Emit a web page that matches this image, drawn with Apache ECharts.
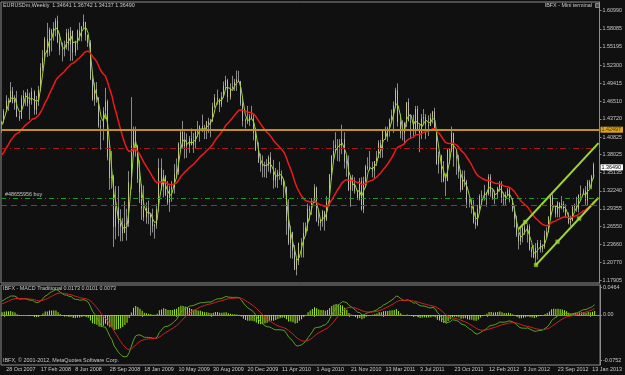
<!DOCTYPE html>
<html><head><meta charset="utf-8">
<script src="https://cdn.jsdelivr.net/npm/echarts@6/dist/echarts.min.js"></script>
<style>html,body{margin:0;padding:0;background:#101010;}#c{width:625px;height:375px;}</style>
</head><body><div id="c"></div>
<script>
// weekly closes before the first visible bar (used only to warm up the indicators)
const priorCloses = [1.2810,1.2720,1.2680,1.2820,1.2680,1.2650,1.2530,1.2550,1.2730,1.2760,1.2830,1.2840,1.3100,1.3300,1.3270,1.3170,1.3130,1.3200,
1.3000,1.2920,1.2960,1.2950,1.3030,1.2990,1.3140,1.3150,1.3190,1.3120,1.3270,1.3290,1.3350,1.3390,1.3530,1.3600,1.3640,1.3520,1.3520,1.3510,1.3450,1.3460,1.3370,1.3380,1.3500,1.3540,1.3620,1.3790,1.3820,1.3680,1.3830,1.3680,1.3450,1.3660,1.3640,1.3750,1.3880,1.4080,1.4270,1.4160,1.4200,1.4300];

// visible weekly bars, 21 Oct 2007 .. 27 Jan 2013
const closes = [1.4330,1.4500,1.4660,1.4640,1.4820,1.4630,1.4680,1.4410,1.4380,1.4700,1.4740,1.4780,1.4620,1.4670,1.4810,1.4520,1.4650,1.4830,1.5190,1.5350,
1.5650,1.5430,1.5790,1.5720,1.5820,1.5940,1.5600,1.5470,1.5480,1.5520,1.5750,1.5560,1.5780,1.5430,1.5590,1.5780,1.5680,1.5850,1.5920,1.5710,
1.5590,1.5010,1.4680,1.4850,1.4700,1.4260,1.4240,1.4500,1.4650,1.3760,1.3430,1.3450,1.2650,1.2960,1.2700,1.2650,1.2550,1.2690,1.2710,1.3360,
1.3950,1.4180,1.3940,1.3410,1.3200,1.2940,1.2800,1.2950,1.2860,1.2800,1.2660,1.2680,1.2930,1.3590,1.3290,1.3470,1.3160,1.3040,1.3250,1.3280,
1.3490,1.3530,1.3980,1.4160,1.3940,1.4020,1.3940,1.4060,1.3960,1.4010,1.4170,1.4200,1.4260,1.4180,1.4200,1.4330,1.4290,1.4340,1.4570,1.4710,
1.4680,1.4600,1.4730,1.4900,1.4990,1.4720,1.4860,1.4880,1.4960,1.5000,1.4970,1.4620,1.4340,1.4360,1.4330,1.4410,1.4380,1.4150,1.3870,1.3680,
1.3640,1.3620,1.3630,1.3630,1.3760,1.3530,1.3390,1.3470,1.3520,1.3480,1.3380,1.3290,1.2750,1.2390,1.2570,1.2270,1.1970,1.2110,1.2390,1.2370,
1.2550,1.2640,1.2940,1.2910,1.3060,1.3280,1.2750,1.2710,1.2750,1.2900,1.2750,1.3050,1.3490,1.3790,1.3860,1.3960,1.3960,1.3950,1.4050,1.3690,
1.3670,1.3240,1.3420,1.3320,1.3220,1.3090,1.3380,1.2930,1.3380,1.3610,1.3580,1.3590,1.3550,1.3700,1.3750,1.3990,1.3900,1.4180,1.4090,1.4220,
1.4360,1.4430,1.4590,1.4830,1.4320,1.4140,1.4150,1.4310,1.4640,1.4340,1.4310,1.4190,1.4530,1.4210,1.4150,1.4380,1.4400,1.4280,1.4260,1.4390,
1.4490,1.4200,1.3650,1.3790,1.3500,1.3380,1.3380,1.3880,1.3890,1.4150,1.3770,1.3750,1.3520,1.3240,1.3450,1.3380,1.3040,1.3050,1.2960,1.2720,
1.2680,1.2940,1.3140,1.3150,1.3200,1.3170,1.3450,1.3200,1.3110,1.3180,1.3270,1.3340,1.3090,1.3080,1.3160,1.3240,1.3080,1.2910,1.2780,1.2520,
1.2420,1.2510,1.2640,1.2570,1.2660,1.2290,1.2250,1.2160,1.2310,1.2390,1.2290,1.2330,1.2510,1.2570,1.2810,1.3130,1.2980,1.2860,1.3040,1.2950,
1.3020,1.2940,1.2830,1.2710,1.2740,1.2970,1.2990,1.2930,1.3160,1.3180,1.3220,1.3070,1.3370,1.3300,1.3460,1.36490];

const highs = [1.4345,1.4530,1.4750,1.4710,1.4960,1.4880,1.4750,1.4820,1.4480,1.4750,1.4830,1.4800,1.4850,1.4790,1.4870,1.4830,1.4740,1.4900,1.5260,1.5470,
1.5680,1.5905,1.5830,1.5810,1.5915,1.5980,1.6020,1.5740,1.5590,1.5620,1.5810,1.5810,1.5840,1.5650,1.5620,1.5800,1.5910,1.5850,1.6038,1.5920,
1.5720,1.5630,1.5100,1.4950,1.4960,1.4720,1.4360,1.4560,1.4870,1.4680,1.3980,1.3860,1.3480,1.3300,1.3300,1.2930,1.2790,1.3060,1.2940,1.3540,
1.4720,1.4250,1.4250,1.3960,1.3710,1.3330,1.3310,1.3040,1.3070,1.2870,1.2940,1.2700,1.3010,1.3740,1.3740,1.3560,1.3460,1.3380,1.3310,1.3380,
1.3650,1.3740,1.4000,1.4190,1.4340,1.4170,1.4140,1.4100,1.4220,1.4150,1.4180,1.4340,1.4270,1.4440,1.4280,1.4340,1.4390,1.4370,1.4630,1.4770,
1.4840,1.4700,1.4800,1.4970,1.5060,1.5010,1.4940,1.5060,1.5010,1.5144,1.5140,1.4980,1.4720,1.4380,1.4580,1.4450,1.4580,1.4450,1.4230,1.4000,
1.3820,1.3790,1.3690,1.3730,1.3790,1.3840,1.3720,1.3590,1.3560,1.3690,1.3550,1.3420,1.3290,1.3090,1.2670,1.2560,1.2360,1.2150,1.2400,1.2470,
1.2720,1.2720,1.3020,1.2990,1.3110,1.3330,1.3290,1.2920,1.2760,1.2920,1.2890,1.3140,1.3490,1.3790,1.4030,1.4160,1.4050,1.4050,1.4280,1.4160,
1.3790,1.3790,1.3460,1.3480,1.3440,1.3240,1.3430,1.3440,1.3450,1.3640,1.3760,1.3860,1.3690,1.3700,1.3860,1.4030,1.4040,1.4190,1.4250,1.4250,
1.4380,1.4520,1.4650,1.4870,1.4940,1.4450,1.4350,1.4320,1.4640,1.4700,1.4450,1.4440,1.4580,1.4580,1.4290,1.4450,1.4530,1.4450,1.4430,1.4460,
1.4500,1.4550,1.4210,1.3850,1.3800,1.3700,1.3500,1.3890,1.3900,1.4250,1.4150,1.3860,1.3800,1.3560,1.3550,1.3550,1.3400,1.3120,1.3090,1.3080,
1.2880,1.3000,1.3170,1.3230,1.3320,1.3210,1.3490,1.3490,1.3270,1.3230,1.3290,1.3380,1.3380,1.3200,1.3210,1.3270,1.3280,1.3110,1.2990,1.2830,
1.2560,1.2630,1.2660,1.2750,1.2690,1.2690,1.2330,1.2360,1.2390,1.2440,1.2440,1.2370,1.2590,1.2640,1.2820,1.3170,1.3170,1.3000,1.3060,1.3000,
1.3140,1.3060,1.3010,1.2880,1.2830,1.2980,1.3020,1.3130,1.3170,1.3310,1.3260,1.3300,1.3400,1.3400,1.3480,1.36742];

const lows = [1.4150,1.4300,1.4480,1.4500,1.4640,1.4620,1.4520,1.4400,1.4340,1.4370,1.4580,1.4580,1.4570,1.4360,1.4600,1.4440,1.4440,1.4580,1.4810,1.5130,
1.5310,1.5360,1.5380,1.5450,1.5620,1.5690,1.5580,1.5390,1.5290,1.5370,1.5480,1.5460,1.5300,1.5300,1.5380,1.5470,1.5620,1.5610,1.5800,1.5620,
1.5520,1.4990,1.4660,1.4580,1.4630,1.4230,1.3880,1.4030,1.4370,1.3710,1.3240,1.3260,1.2330,1.2450,1.2500,1.2420,1.2420,1.2560,1.2430,1.2650,
1.3250,1.3800,1.3770,1.3350,1.3030,1.2760,1.2740,1.2700,1.2690,1.2510,1.2560,1.2460,1.2620,1.2890,1.3230,1.3120,1.3140,1.3000,1.2890,1.3050,
1.3180,1.3430,1.3480,1.3840,1.3900,1.3740,1.3750,1.3830,1.3950,1.3830,1.3900,1.4080,1.4010,1.4160,1.4050,1.4050,1.4150,1.4080,1.4320,1.4550,
1.4600,1.4480,1.4560,1.4710,1.4840,1.4640,1.4680,1.4840,1.4820,1.4820,1.4960,1.4580,1.4250,1.4220,1.4290,1.4260,1.4370,1.4030,1.3860,1.3670,
1.3530,1.3440,1.3440,1.3430,1.3530,1.3500,1.3260,1.3280,1.3270,1.3400,1.3320,1.3110,1.2520,1.2360,1.2150,1.2140,1.1960,1.1876,1.2040,1.2160,
1.2160,1.2510,1.2580,1.2750,1.2840,1.3030,1.2730,1.2660,1.2590,1.2650,1.2590,1.2770,1.2980,1.3400,1.3690,1.3840,1.3700,1.3690,1.3810,1.3580,
1.3450,1.3220,1.2970,1.3220,1.3180,1.3080,1.3070,1.2910,1.2870,1.3270,1.3550,1.3550,1.3440,1.3430,1.3620,1.3760,1.3750,1.3750,1.4040,1.4010,
1.4090,1.4300,1.4150,1.4550,1.4250,1.4060,1.4030,1.3970,1.4240,1.4330,1.4060,1.4100,1.4120,1.4180,1.3840,1.4050,1.4270,1.4050,1.4100,1.4300,
1.4300,1.4190,1.3640,1.3500,1.3360,1.3360,1.3140,1.3440,1.3650,1.3840,1.3610,1.3480,1.3420,1.3200,1.3250,1.3290,1.2950,1.2960,1.2860,1.2700,
1.2620,1.2660,1.2890,1.2980,1.3070,1.2970,1.3150,1.3130,1.3080,1.3010,1.3110,1.3210,1.3030,1.2990,1.3000,1.3150,1.3040,1.2890,1.2640,1.2490,
1.2290,1.2360,1.2400,1.2520,1.2400,1.2270,1.2160,1.2150,1.2042,1.2130,1.2240,1.2240,1.2300,1.2470,1.2560,1.2760,1.2960,1.2800,1.2800,1.2800,
1.2930,1.2880,1.2790,1.2690,1.2660,1.2740,1.2910,1.2890,1.2880,1.3070,1.3160,1.3000,1.2990,1.3260,1.3250,1.34137];

const lastOpen = 1.34641;
const tickLabels = ['28 Oct 2007','17 Feb 2008','8 Jun 2008','28 Sep 2008','18 Jan 2009','10 May 2009','30 Aug 2009','20 Dec 2009','11 Apr 2010','1 Aug 2010','21 Nov 2010','13 Mar 2011','3 Jul 2011','23 Oct 2011','12 Feb 2012','3 Jun 2012','23 Sep 2012','13 Jan 2013'];
const priceTicks = [1.60990,1.58085,1.55195,1.52300,1.49415,1.46510,1.43720,1.40825,1.38025,1.35135,1.32240,1.29355,1.26550,1.23660,1.20770,1.17905];
const macdTicks = [0.0464, 0, -0.0752];
const levelGold = 1.42497, levelBid = 1.36490, levelTP = 1.3860, levelOpen = 1.3094, levelSL = 1.3046;
const channelLower = [[248,1.2042],[277,1.3115]];
const channelUpper = [[240,1.2616],[277,1.3985]];
const channelMarks = [[248,1.2042],[258,1.2412],[268,1.2782],[243,1.2727]];
const headerText = 'EURUSDm,Weekly  1.34641 1.36742 1.34137 1.36490';
const macdText = 'IBFX - MACD Traditional 0.0173 0.0101 0.0073';

const N = closes.length, EXTRA = 2;
const categories = []; for (let i = 0; i < N + EXTRA; i++) categories.push(String(i));
const opens = closes.map((c, i) => i === 0 ? priorCloses[priorCloses.length - 1] : closes[i - 1]);
opens[N - 1] = lastOpen;
const wicks = closes.map((c, i) => { const o = opens[i]; return [o, c, Math.min(lows[i], o, c), Math.max(highs[i], o, c)]; });
const bodies = closes.map((c, i) => { const o = opens[i]; return [o, c, Math.min(o, c), Math.max(o, c)]; });
const all = priorCloses.concat(closes), P = priorCloses.length;
function ema(a, p) { const k = 2 / (p + 1); let e = a[0]; return a.map((v, i) => (e = i === 0 ? v : e + k * (v - e))); }
function sma(a, p) { return a.map((v, i) => { const s = a.slice(Math.max(0, i - p + 1), i + 1); return s.reduce((x, y) => x + y, 0) / s.length; }); }
const maRed = ema(all, 26).slice(P);
const maFast = sma(all, 3).slice(P);
const e12 = ema(all, 12), e26 = ema(all, 26);
const macdAll = e12.map((v, i) => v - e26[i]);
const sigAll = ema(macdAll, 9);
const macd = macdAll.slice(P), signal = sigAll.slice(P);
const hist = macd.map((v, i) => v - signal[i]);

const FONT = 'Liberation Sans', FS = 5.4, TXT = '#c8c8c8', AX = '#8c8c8c';
const isTick = (i) => i >= 1 && (i - 1) % 16 === 0 && (i - 1) / 16 < tickLabels.length;
const chart = echarts.init(document.getElementById('c'), null, { renderer: 'canvas' });
const gt = (x, y, text, align) => ({ type: 'text', x: x, y: y, silent: true, z: 100,
  style: { text: text, fill: TXT, font: FS + 'px "' + FONT + '"', align: align || 'left', verticalAlign: 'middle' } });
chart.setOption({
  backgroundColor: '#101010',
  animation: false,
  grid: [
    { left: 1, top: 2, width: 603, height: 281, show: true, borderColor: AX, borderWidth: 1 },
    { left: 1, top: 285, width: 603, height: 80, show: true, borderColor: AX, borderWidth: 1 }
  ],
  xAxis: [
    { type: 'category', gridIndex: 0, data: categories, boundaryGap: true, axisLine: { show: false }, axisTick: { show: false }, axisLabel: { show: false }, splitLine: { show: false } },
    { type: 'category', gridIndex: 1, data: categories, boundaryGap: true,
      axisLine: { show: true, lineStyle: { color: AX } },
      axisTick: { show: true, interval: isTick, alignWithLabel: true, length: 2, lineStyle: { color: AX } },
      axisLabel: { show: true, interval: isTick, formatter: (v, i) => tickLabels[(i - 1) / 16] || '', align: 'left', margin: 2, padding: [0, 0, 0, 2], color: TXT, fontSize: FS, fontFamily: FONT },
      splitLine: { show: false } }
  ],
  yAxis: [
    { type: 'value', gridIndex: 0, position: 'right', min: 1.17538, max: 1.62378, splitLine: { show: false },
      axisLine: { show: true, lineStyle: { color: AX } },
      axisTick: { show: true, customValues: priceTicks, length: 2, lineStyle: { color: AX } },
      axisLabel: { customValues: priceTicks, formatter: v => v.toFixed(5), margin: 3, color: TXT, fontSize: FS, fontFamily: FONT } },
    { type: 'value', gridIndex: 1, position: 'right', min: -0.0833, max: 0.04998, splitLine: { show: false },
      axisLine: { show: true, lineStyle: { color: AX } },
      axisTick: { show: true, customValues: macdTicks, length: 2, lineStyle: { color: AX } },
      axisLabel: { customValues: macdTicks, formatter: v => v === 0 ? '0.00' : v.toFixed(4), margin: 3, color: TXT, fontSize: FS, fontFamily: FONT } }
  ],
  series: [
    { type: 'candlestick', xAxisIndex: 0, yAxisIndex: 0, data: wicks, barWidth: 1,
      itemStyle: { color: '#8a8a8a', color0: '#8a8a8a', borderColor: '#8a8a8a', borderColor0: '#8a8a8a', borderWidth: 1 } },
    { type: 'candlestick', xAxisIndex: 0, yAxisIndex: 0, data: bodies, barWidth: 1.2,
      itemStyle: { color: '#f0e27c', color0: '#d6d6d6', borderColor: '#f0e27c', borderColor0: '#d6d6d6', borderWidth: 0.6 },
      markLine: { silent: true, symbol: ['none', 'none'], animation: false, data: [
        { yAxis: levelTP, lineStyle: { color: '#a81818', width: 1, type: [6, 3, 1, 3] }, label: { show: false } },
        { yAxis: levelOpen, lineStyle: { color: '#229a22', width: 1, type: [5, 3, 1, 3] }, label: { show: false } },
        { yAxis: levelSL, lineStyle: { color: '#c41c1c', width: 1, type: [6, 4] }, label: { show: false } },
        { yAxis: levelGold, lineStyle: { color: '#c4911a', width: 2, type: 'solid' },
          label: { show: true, position: 'end', distance: 1, formatter: levelGold.toFixed(5), backgroundColor: '#d9a420', color: '#4a3000', fontSize: FS, fontFamily: FONT, padding: [1, 2, 0, 1] } },
        { yAxis: levelBid, lineStyle: { color: 'rgba(0,0,0,0)', width: 1 },
          label: { show: true, position: 'end', distance: 1, formatter: levelBid.toFixed(5), backgroundColor: '#ffffff', color: '#000000', fontSize: FS, fontFamily: FONT, padding: [1, 2, 0, 1] } }
      ] } },
    { type: 'line', xAxisIndex: 0, yAxisIndex: 0, data: maFast.map(v => +v.toFixed(5)), symbol: 'none', lineStyle: { color: '#9ad42e', width: 1 } },
    { type: 'line', xAxisIndex: 0, yAxisIndex: 0, data: maRed.map(v => +v.toFixed(5)), symbol: 'none', lineStyle: { color: '#f01a1a', width: 1.5 } },
    { type: 'line', xAxisIndex: 0, yAxisIndex: 0, data: channelLower, symbol: 'none', lineStyle: { color: '#9fd62e', width: 2 } },
    { type: 'line', xAxisIndex: 0, yAxisIndex: 0, data: channelUpper, symbol: 'none', lineStyle: { color: '#9fd62e', width: 2 } },
    { type: 'scatter', xAxisIndex: 0, yAxisIndex: 0, data: channelMarks, symbol: 'rect', symbolSize: 4, itemStyle: { color: '#9fd62e', borderColor: '#5f8a1a', borderWidth: 0.5 } },
    { type: 'bar', xAxisIndex: 1, yAxisIndex: 1, data: hist.map(v => +v.toFixed(5)), barWidth: 1, itemStyle: { color: '#a6ee1c' } },
    { type: 'line', xAxisIndex: 1, yAxisIndex: 1, data: macd.map(v => +v.toFixed(5)), symbol: 'none', lineStyle: { color: '#5aa424', width: 1 } },
    { type: 'line', xAxisIndex: 1, yAxisIndex: 1, data: signal.map(v => +v.toFixed(5)), symbol: 'none', lineStyle: { color: '#d42020', width: 1 } }
  ],
  graphic: [
    gt(3, 6, headerText),
    gt(592, 6, 'IBFX - Mini terminal', 'right'),
    { type: 'rect', shape: { x: 595.5, y: 3.5, width: 4, height: 4 }, style: { fill: '#505050', stroke: '#c0c0c0', lineWidth: 0.6 }, silent: true, z: 100 },
    gt(5, 195, '#48655956 buy'),
    gt(3, 289, macdText),
    gt(3, 360.5, 'IBFX, \u00a9 2001-2012, MetaQuotes Software Corp.')
  ]
});
</script>
</body></html>
